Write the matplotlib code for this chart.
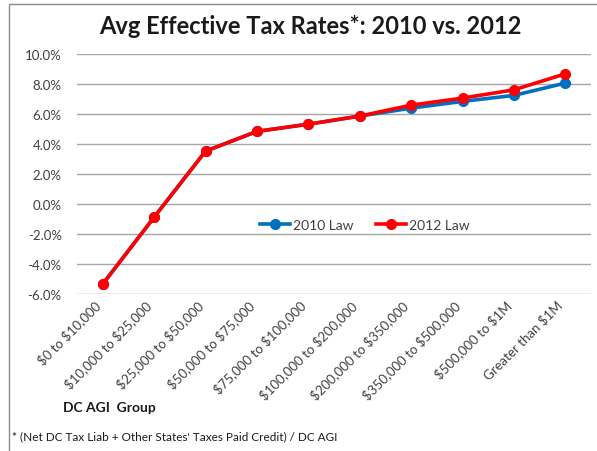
import numpy as np
import matplotlib.pyplot as plt
from matplotlib.patches import Rectangle
from matplotlib.ticker import FuncFormatter

plt.rcParams['font.family'] = ['Lato', 'DejaVu Sans']
plt.rcParams['text.parse_math'] = False

groups = ['$0 to $10,000', '$10,000 to $25,000', '$25,000 to $50,000',
          '$50,000 to $75,000', '$75,000 to $100,000', '$100,000 to $200,000',
          '$200,000 to $350,000', '$350,000 to $500,000', '$500,000 to $1M',
          'Greater than $1M']
law_2010 = [-5.33, -0.87, 3.53, 4.85, 5.33, 5.87, 6.40, 6.85, 7.25, 8.07]
law_2012 = [-5.33, -0.87, 3.53, 4.85, 5.33, 5.87, 6.60, 7.07, 7.62, 8.69]

x = np.arange(len(groups))
grey_txt = '#404040'

fig = plt.figure(figsize=(5.97, 4.52), dpi=100)
ax = fig.add_axes([0.129, 0.347, 0.861, 0.531])

# outer chart border
fig.patches.append(Rectangle((9 / 597, -0.01), 1.0, 1 - 5 / 452 + 0.01,
                             transform=fig.transFigure, fill=False,
                             edgecolor='#8c8c8c', linewidth=1.0))

ax.plot(x, law_2010, color='#0070C0', lw=2.6, marker='o', ms=7, label='2010 Law')
ax.plot(x, law_2012, color='#FF0000', lw=2.6, marker='o', ms=7, label='2012 Law')

ax.set_xlim(-0.5, len(groups) - 0.5)
ax.set_ylim(-6, 10)
ax.set_yticks(np.arange(-6, 10.1, 2))
ax.yaxis.set_major_formatter(FuncFormatter(lambda v, p: f'{v:.1f}%'))
ax.set_xticks(x)
ax.set_xticklabels(groups, rotation=45, ha='right', va='top')
ax.tick_params(axis='both', length=0, labelsize=9.5, labelcolor=grey_txt)
ax.tick_params(axis='y', pad=11)
ax.tick_params(axis='x', pad=3)
ax.grid(axis='y', color='#a6a6a6', lw=1.0)
ax.set_axisbelow(True)
for s in ax.spines.values():
    s.set_visible(False)

ax.legend(loc='center', bbox_to_anchor=(0.56, 0.29), ncol=2, frameon=False,
          fontsize=10, handlelength=2.2, handletextpad=0.2, columnspacing=1.6,
          labelcolor=grey_txt)

fig.text(0.52, 1 - 27 / 452, 'Avg Effective Tax Rates*: 2010 vs. 2012', ha='center',
         va='center', fontsize=17, fontweight='bold', color='#1a1a1a')
fig.text(63 / 597, 1 - 408 / 452, 'DC AGI  Group', ha='left', va='center',
         fontsize=10, fontweight='bold', color='#1a1a1a')
fig.text(12 / 597, 1 - 437 / 452,
         "* (Net DC Tax Liab + Other States' Taxes Paid Credit) / DC AGI",
         ha='left', va='center', fontsize=8.5, color='#1a1a1a')

fig.savefig('out.png', dpi=100)
